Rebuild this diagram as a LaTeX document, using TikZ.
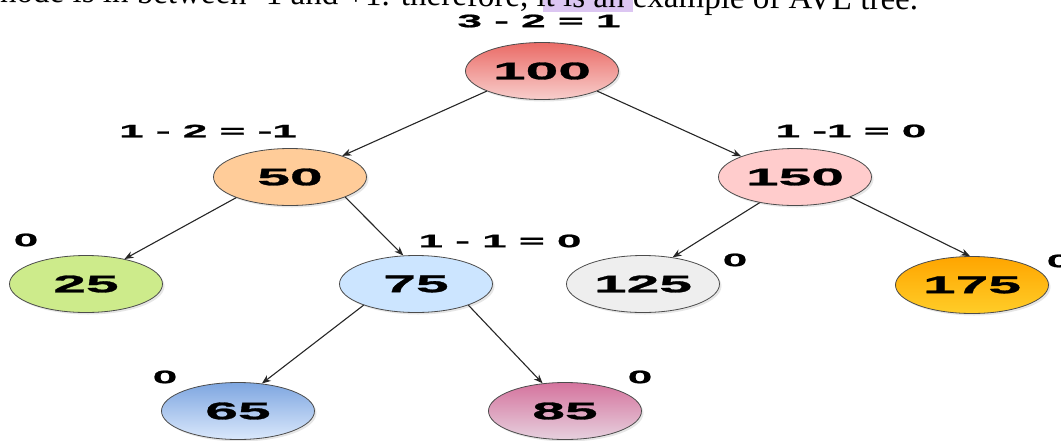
\documentclass[tikz,border=0pt]{standalone}
\usepackage{fontspec}
\usepackage{xcolor}
\usepackage{tikz}
\usetikzlibrary{arrows.meta, shapes.geometric, shadows}
\setmainfont{Liberation Serif}
\newfontfamily\treefont[FakeStretch=2.45, FakeBold=1.2]{Liberation Sans}
\definecolor{avlRedTop}{HTML}{EA6B66}
\definecolor{avlRedBot}{HTML}{F8CECC}
\definecolor{avlPeach}{HTML}{FFCC99}
\definecolor{avlPink}{HTML}{FFCCCC}
\definecolor{avlGreen}{HTML}{CDEB8B}
\definecolor{avlSky}{HTML}{CCE5FF}
\definecolor{avlGrey}{HTML}{EEEEEE}
\definecolor{avlAmberTop}{HTML}{FFA500}
\definecolor{avlAmberBot}{HTML}{FFCD28}
\definecolor{avlBlueTop}{HTML}{7EA6E0}
\definecolor{avlBlueBot}{HTML}{DAE8FC}
\definecolor{avlRoseTop}{HTML}{D5739D}
\definecolor{avlRoseBot}{HTML}{E6D0DE}
\definecolor{avlLilac}{HTML}{DCC6F2}

\begin{document}
\begin{tikzpicture}[
  x=1pt, y=-1pt,
  key/.style={ellipse, draw=black!70, line width=0.8pt, minimum width=153pt, minimum height=57pt,
              inner sep=0pt, font=\treefont\bfseries\fontsize{24}{24}\selectfont,
              drop shadow={opacity=0.2, shadow xshift=2pt, shadow yshift=-2pt}},
  bal/.style={inner sep=0pt, font=\treefont\bfseries\fontsize{18}{18}\selectfont},
  arrow/.style={-{Stealth[length=9pt, width=7pt]}, line width=1.1pt, draw=black!85},
]
  \useasboundingbox (0,0) rectangle (1061,440);

  % text of the page above the tree
  \fill[avlLilac] (543,0) rectangle (633,12);
  \node[anchor=base west, inner sep=0pt, rotate=-0.5, font=\fontsize{33}{33}\selectfont] (note) at (0,2)
    {node is in between -1 and +1. therefore, it is an example of AVL tree.};

  \node[key, top color=avlRedTop, bottom color=avlRedBot]     (n100) at (542,71)  {100};
  \node[key, fill=avlPeach]                                   (n50)  at (290,177) {50};
  \node[key, fill=avlPink]                                    (n150) at (795,177) {150};
  \node[key, fill=avlGreen]                                   (n25)  at (86,284)  {25};
  \node[key, fill=avlSky]                                     (n75)  at (416,284) {75};
  \node[key, fill=avlGrey]                                    (n125) at (643,284) {125};
  \node[key, top color=avlAmberTop, bottom color=avlAmberBot] (n175) at (972,285) {175};
  \node[key, top color=avlBlueTop, bottom color=avlBlueBot]   (n65)  at (238,411) {65};
  \node[key, top color=avlRoseTop, bottom color=avlRoseBot]   (n85)  at (565,411) {85};

  % balance factors
  \node[bal] (b100) at (539,21)  {3 - 2 = 1};
  \node[bal] (b50)  at (208,131) {1 - 2 = -1};
  \node[bal] (b150) at (851,131) {1 -1 = 0};
  \node[bal] (b75)  at (500,241) {1 - 1 = 0};
  \node[bal] (b25)  at (26,240)  {0};
  \node[bal] (b125) at (735,260) {0};
  \node[bal] (b175) at (1059,261) {0};
  \node[bal] (b65)  at (165,377) {0};
  \node[bal] (b85)  at (640,377) {0};

  \draw[arrow] (n100.200) -- (n50.22);
  \draw[arrow] (n100.340) -- (n150.159);
  \draw[arrow] (n50.201)  -- (n25.33);
  \draw[arrow] (n50.340)  -- (n75.114);
  \draw[arrow] (n150.216) -- (n125.42);
  \draw[arrow] (n150.340) -- (n175.94);
  \draw[arrow] (n75.202)  -- (n65.49);
  \draw[arrow] (n75.338)  -- (n85.129);
\end{tikzpicture}
\end{document}
